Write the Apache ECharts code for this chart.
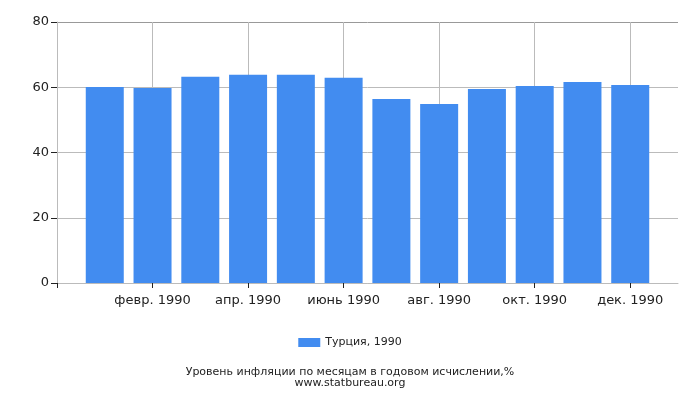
<!DOCTYPE html>
<html>
<head>
<meta charset="utf-8">
<script src="https://cdn.jsdelivr.net/npm/echarts@6/dist/echarts.min.js"></script>
<style>
  html, body { margin: 0; padding: 0; background: #fff; }
  #main { width: 700px; height: 400px; }
</style>
</head>
<body>
<div id="main"></div>
<script>
// месяцы 1990 года, позиция на оси = номер месяца
const monthLabels = ["янв. 1990", "февр. 1990", "март 1990", "апр. 1990", "май 1990", "июнь 1990",
  "июль 1990", "авг. 1990", "сент. 1990", "окт. 1990", "нояб. 1990", "дек. 1990"];
const monthNumbers = [1, 2, 3, 4, 5, 6, 7, 8, 9, 10, 11, 12];
// Турция, инфляция в годовом исчислении, %
const turkey1990 = [60.1, 59.8, 63.2, 63.8, 63.8, 62.9, 56.4, 54.9, 59.5, 60.4, 61.6, 60.7];
const yTicks = [0, 20, 40, 60, 80];
const xTicks = [0, 2, 4, 6, 8, 10, 12];

const font = "DejaVu Sans";
const myChart = echarts.init(document.getElementById("main"), null, { renderer: "canvas" });

myChart.setOption({
  animation: false,
  textStyle: { fontFamily: font },
  grid: { left: 57, right: 22, top: 22, bottom: 117 },
  title: {
    text: "Уровень инфляции по месяцам в годовом исчислении,%\nwww.statbureau.org",
    left: "center",
    top: 362,
    textStyle: { fontFamily: font, fontSize: 11, fontWeight: "normal", color: "#222", lineHeight: 11 },
  },
  legend: {
    top: 332,
    left: "center",
    icon: "rect",
    itemWidth: 22,
    itemHeight: 9,
    itemGap: 5,
    textStyle: { fontFamily: font, fontSize: 11, color: "#222" },
    data: ["Турция, 1990"],
  },
  xAxis: {
    type: "value",
    min: 0,
    max: 13,
    interval: 2,
    axisLine: { lineStyle: { color: "#bbb" } },
    axisTick: { length: 5, customValues: xTicks, lineStyle: { color: "#222" } },
    axisLabel: {
      margin: 11,
      fontSize: 13,
      color: "#222",
      formatter: (v) => (v >= 1 && v <= 12 && v % 1 === 0 ? monthLabels[v - 1] : ""),
    },
    splitLine: {
      show: true,
      lineStyle: { color: ["#bbb", "#bbb", "#bbb", "#bbb", "#bbb", "#bbb", "#bbb", "#ccc"] },
    },
  },
  yAxis: {
    type: "value",
    min: yTicks[0],
    max: yTicks[yTicks.length - 1],
    interval: 20,
    axisLine: { show: true, lineStyle: { color: "#bbb" } },
    axisTick: { show: true, length: 6, lineStyle: { color: "#222" } },
    axisLabel: { margin: 8, fontSize: 13, color: "#222" },
    splitLine: { lineStyle: { color: ["#bbb", "#bbb", "#bbb", "#bbb", "#999"] } },
  },
  series: [
    {
      name: "Турция, 1990",
      type: "bar",
      barWidth: 38,
      itemStyle: { color: "#428cf0" },
      data: monthNumbers.map((m, i) => [m, turkey1990[i]]),
    },
  ],
});
</script>
</body>
</html>
